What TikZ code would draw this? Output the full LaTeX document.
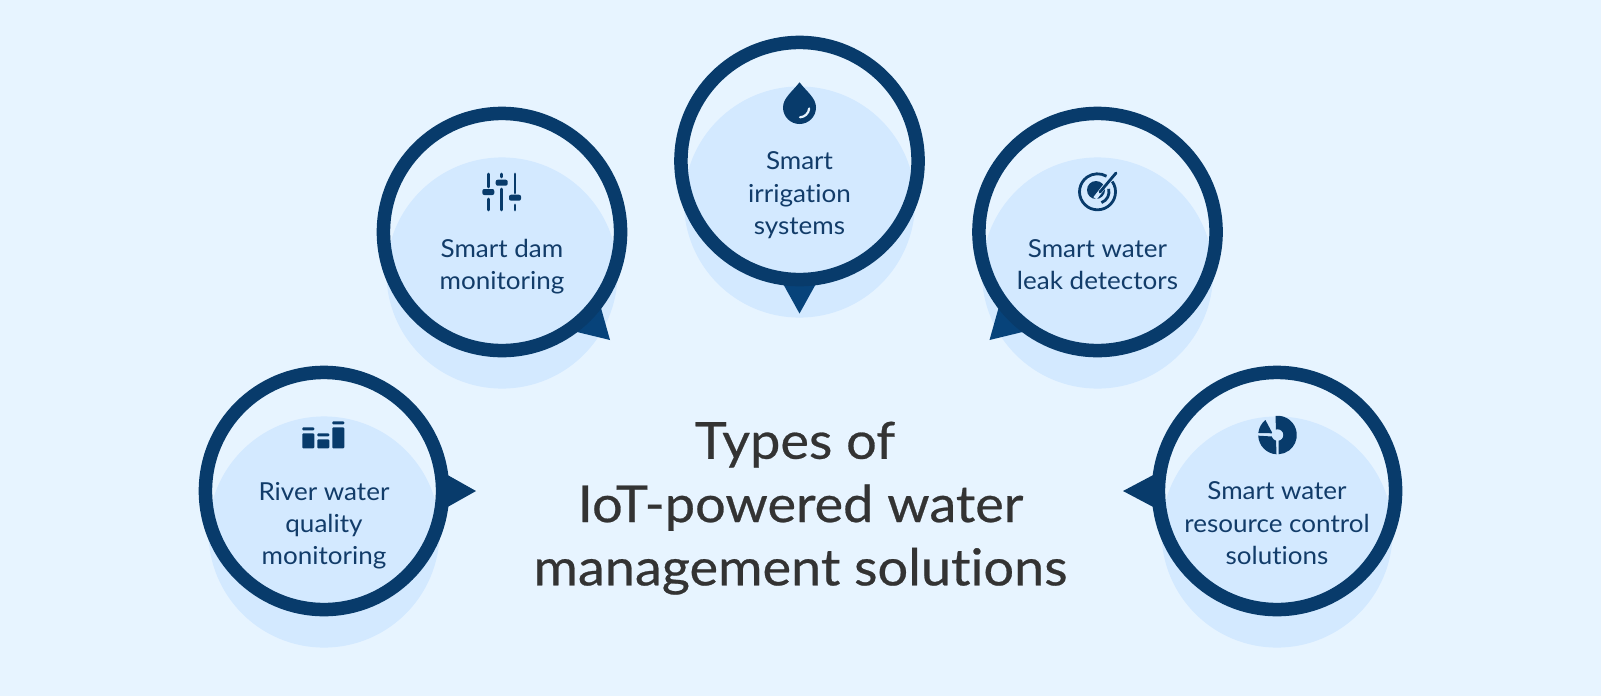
\documentclass[tikz,border=0pt]{standalone}
\usepackage{fontspec}
\setmainfont[FakeStretch=1.05,Ligatures=NoCommon]{Lato}
\newfontfamily\titlefont[FakeBold=0.5,FakeStretch=1.06,Ligatures=NoCommon]{Lato}
\usepackage{xcolor}
\usetikzlibrary{positioning, calc}
\definecolor{pagebg}{HTML}{E7F4FF}
\definecolor{shadeblue}{HTML}{D3E9FF}
\definecolor{ringblue}{HTML}{083B6B}
\definecolor{tipblue}{HTML}{07437A}
\definecolor{textblue}{HTML}{123C69}
\definecolor{titlegray}{HTML}{333333}

\begin{document}
\begin{tikzpicture}[
    x=0.01cm, y=0.01cm,
    shadedisc/.style={circle, minimum size=2.31cm, inner sep=0pt, fill=shadeblue},
    ring/.style={circle, minimum size=2.37cm, inner sep=0pt, draw=ringblue, line width=0.135cm},
    pointer/.style={fill=ringblue},
    caption/.style={align=center, text=textblue, inner sep=0pt, font=\fontsize{7.05pt}{9.15pt}\selectfont, execute at begin node=\strut, execute at end node=\strut},
    heading/.style={align=center, text=titlegray, inner sep=0pt, font=\titlefont\fontsize{14.5pt}{18pt}\selectfont, execute at begin node=\strut, execute at end node=\strut},
    icon/.style={fill=ringblue},
    iconline/.style={draw=ringblue, line width=0.028cm, line cap=round}
]
\fill[pagebg] (0,0) rectangle (1601,696);
\useasboundingbox (0,0) rectangle (1601,696);

\coordinate (river) at (324,205);
\coordinate (dam) at (502,464);
\coordinate (irrig) at (799.5,535);
\coordinate (leak) at (1097.5,464);
\coordinate (control) at (1277,205);

\node (rivershade) at ($(river)+(0,-41)$) [shadedisc] {};
\node (damshade) at ($(dam)+(0,-41)$) [shadedisc] {};
\node (irrigshade) at ($(irrig)+(0,-41)$) [shadedisc] {};
\node (leakshade) at ($(leak)+(0,-41)$) [shadedisc] {};
\node (controlshade) at ($(control)+(0,-41)$) [shadedisc] {};

\fill[pointer] ($(river)+(152,0)$) -- ($(river)+(120,18)$) -- ($(river)+(120,-18)$) -- cycle;
\fill[pointer, tipblue] ($(dam)+(108,-108)$) -- ($(dam)+(75,-100)$) -- ($(dam)+(98.7,-75)$) -- cycle;
\fill[pointer, tipblue] ($(irrig)+(0,-152.5)$) -- ($(irrig)+(18,-120)$) -- ($(irrig)+(-18,-120)$) -- cycle;
\fill[pointer, tipblue] ($(leak)+(-108,-108)$) -- ($(leak)+(-75,-100)$) -- ($(leak)+(-98.7,-75)$) -- cycle;
\fill[pointer] ($(control)+(-154,0)$) -- ($(control)+(-120,18)$) -- ($(control)+(-120,-18)$) -- cycle;

\node (riverring) at (river) [ring] {};
\node (damring) at (dam) [ring] {};
\node (irrigring) at (irrig) [ring] {};
\node (leakring) at (leak) [ring] {};
\node (controlring) at (control) [ring] {};

\node (rivertext) at (324,168) [caption] {River water\\quality\\monitoring};
\node (damtext) at (502,427) [caption] {Smart dam\\monitoring};
\node (irrigtext) at (799.5,498) [caption] {Smart\\irrigation\\systems};
\node (leaktext) at (1097.5,427) [caption] {Smart water\\leak detectors};
\node (controltext) at (1277,168) [caption] {Smart water\\resource control\\solutions};
\node (title) at (800.5,183) [heading] {Types of\hspace{0.11cm}\mbox{}\\IoT-powered water\\management solutions};

% bars
\foreach \x/\ytop/\ycap in {302.3/262.7/265.7, 317.3/256.7/259.7, 332.3/268.7/271.7} {
    \fill[icon, rounded corners=0.01cm] (\x,247.7) rectangle (\x+12,\ytop);
    \fill[icon, rounded corners=0.01cm] (\x,\ycap+3) rectangle (\x+12,\ycap);
}

% sliders
\draw[iconline] (488.3,522) -- (488.3,509) (488.3,497) -- (488.3,486);
\draw[iconline] (501.7,522) -- (501.7,519) (501.7,507) -- (501.7,486);
\draw[iconline] (515,522) -- (515,503) (515,491) -- (515,486);
\fill[icon, rounded corners=0.02cm] (482.3,507) rectangle (494.3,501);
\fill[icon, rounded corners=0.02cm] (495.7,516.3) rectangle (507.7,510.3);
\fill[icon, rounded corners=0.02cm] (509,501.3) rectangle (521,495.3);

% drop
\fill[icon] (799.5,613.7) .. controls (807,604) and (816,598) .. (816,588.5)
    arc (0:-180:16.5) .. controls (783,598) and (792,604) .. (799.5,613.7) -- cycle;
\draw[pagebg, line width=0.022cm, line cap=round] (800,578.7) arc (-87:-5:9.7);

% target
\draw[ringblue, line width=0.028cm] (1097.5,504.2) ++(35:18) arc (35:-300:18);
\fill[icon] (1096,506) circle (9);
\draw[ringblue, line width=0.028cm] (1097.5,504.2) ++(-70:11.5) arc (-70:15:11.5);
\draw[shadeblue, line width=0.04cm] (1095,497.7) -- (1108,514.3);
\draw[ringblue, line width=0.028cm, line cap=round] (1100,504) -- (1116,523);

% pie
\fill[icon] (1277.5,261) ++(96:19.3) arc (96:-87:19.3) -- (1278.5,256) -- (1276,265) -- cycle;
\fill[icon] (1277.5,261) ++(-93:19.3) arc (-93:-178:19.3) -- (1272,259.5) -- (1276,255.5) -- cycle;
\fill[icon] (1277.5,261) ++(129:19.3) arc (129:174:19.3) -- (1272.5,262.7) -- cycle;
\fill[shadeblue] (1277.5,261) circle (5.7);

\end{tikzpicture}
\end{document}
